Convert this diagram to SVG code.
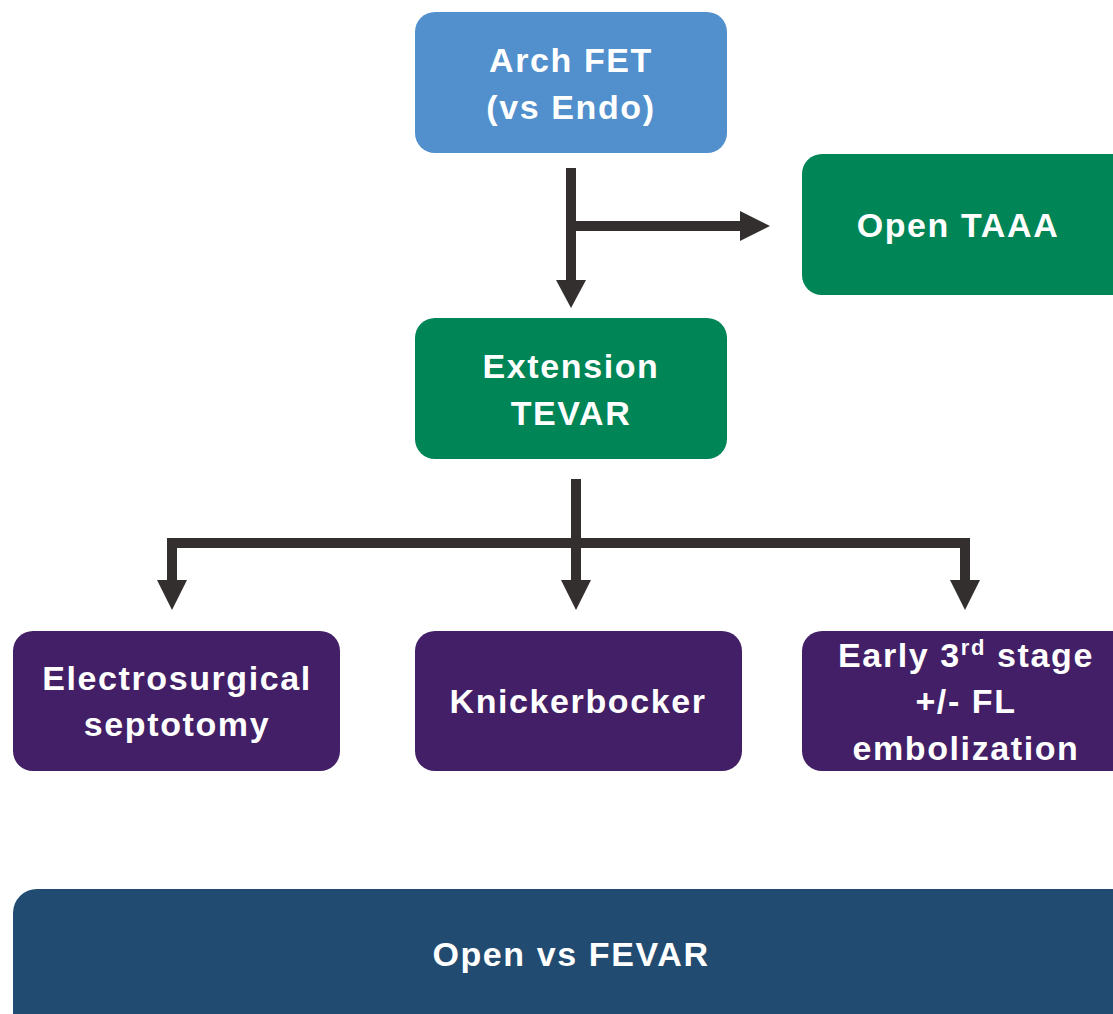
<svg xmlns="http://www.w3.org/2000/svg" width="1113" height="1014" viewBox="0 0 1113 1014">
<defs>
<style>
.t{font-family:"Liberation Sans",Arial,sans-serif;font-weight:bold;font-size:34px;letter-spacing:1.6px;fill:#ffffff;text-anchor:middle}
.blue{fill:#5190CD}
.green{fill:#008556}
.purple{fill:#421F66}
.navy{fill:#214B70}
.ln{stroke:#332F2F;stroke-width:10;fill:none}
.ah{fill:#332F2F}
</style>
</defs>
<rect width="1113" height="1014" fill="#ffffff"/>
<g id="connectors">
<path class="ln" d="M571,168 V282"/>
<polygon class="ah" points="556,280 586,280 571,308"/>
<path class="ln" d="M576,226 H742"/>
<polygon class="ah" points="740,211 740,241 770,226"/>
<path class="ln" d="M576,479 V582"/>
<polygon class="ah" points="561,580 591,580 576,610"/>
<path class="ln" d="M167,543 H970"/>
<path class="ln" d="M172,538 V582"/>
<polygon class="ah" points="157,580 187,580 172,610"/>
<path class="ln" d="M965,538 V582"/>
<polygon class="ah" points="950,580 980,580 965,610"/>
</g>
<g id="arch-fet">
<rect class="blue" x="415" y="12" width="312" height="141" rx="20"/>
<text class="t" x="571" y="72">Arch FET</text>
<text class="t" x="571" y="119">(vs Endo)</text>
</g>
<g id="open-taaa">
<rect class="green" x="802" y="154" width="330" height="141" rx="20"/>
<text class="t" x="958" y="237">Open TAAA</text>
</g>
<g id="extension-tevar">
<rect class="green" x="415" y="318" width="312" height="141" rx="20"/>
<text class="t" x="571" y="378">Extension</text>
<text class="t" x="571" y="425">TEVAR</text>
</g>
<g id="electrosurgical-septotomy">
<rect class="purple" x="13" y="631" width="327" height="140" rx="20"/>
<text class="t" x="177" y="690">Electrosurgical</text>
<text class="t" x="177" y="736">septotomy</text>
</g>
<g id="knickerbocker">
<rect class="purple" x="415" y="631" width="327" height="140" rx="20"/>
<text class="t" x="578" y="713">Knickerbocker</text>
</g>
<g id="early-3rd-stage">
<rect class="purple" x="802" y="631" width="330" height="140" rx="20"/>
<text class="t" x="966" y="667">Early 3<tspan font-size="22" dy="-12">rd</tspan><tspan dy="12"> stage</tspan></text>
<text class="t" x="966" y="713">+/- FL</text>
<text class="t" x="966" y="760">embolization</text>
</g>
<g id="open-vs-fevar">
<rect class="navy" x="13" y="889" width="1130" height="160" rx="24"/>
<text class="t" x="571" y="966">Open vs FEVAR</text>
</g>
</svg>
